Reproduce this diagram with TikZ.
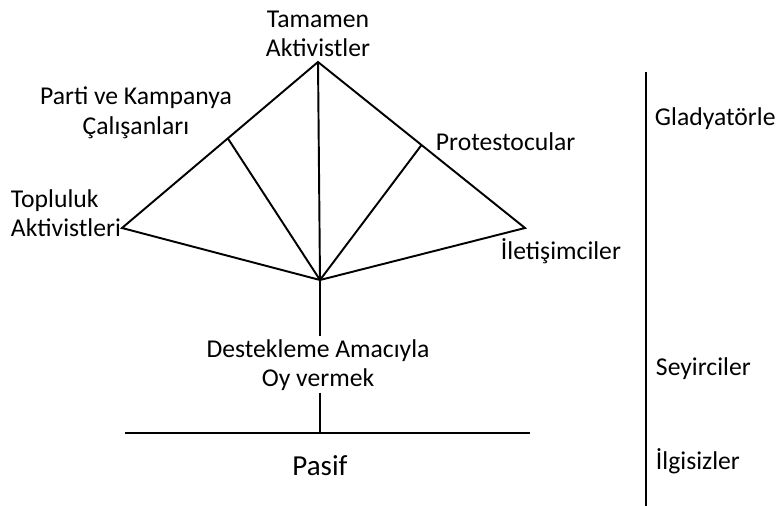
\documentclass[tikz,border=0pt]{standalone}
\usepackage{fontspec}
\setmainfont{Carlito}
\usetikzlibrary{calc}
\begin{document}
\begin{tikzpicture}[x=0.02cm,y=-0.02cm,line width=1.1pt,
  lbl/.style={font=\fontsize{14.6}{16.8}\selectfont,inner sep=0pt,align=center},
  lbll/.style={lbl,align=left,anchor=west}]
\useasboundingbox (0,0) rectangle (776,506);
\coordinate (top) at (318,62);
\coordinate (bot) at (320,280);
\coordinate (lft) at (122,228);
\coordinate (rgt) at (525,228);
\coordinate (parti) at ($(top)!0.46!(lft)$);
\coordinate (prot) at ($(top)!0.5!(rgt)$);
\coordinate (base) at (320,433);
\coordinate (basel) at (125,433);
\coordinate (baser) at (530,433);
\coordinate (axtop) at (646,72);
\coordinate (axbot) at (646,506);
\draw (top) -- (lft) -- (bot) -- (rgt) -- cycle;
\draw (top) -- (bot);
\draw (parti) -- (bot);
\draw (prot) -- (bot);
\draw (basel) -- (baser);
\draw[line width=1.5pt] (axtop) -- (axbot);
\node[lbl] (tamamen) at (318,34) {Tamamen\\Aktivistler};
\node[lbl] (partilbl) at (136,113) {Parti ve Kampanya\\Çalışanları};
\node[lbll] (toplu) at (10,213) {Topluluk\\Aktivistleri};
\node[lbll] (protlbl) at (435,142) {Protestocular};
\node[lbll] (iletis) at (500,251) {İletişimciler};
\node[lbl] (destek) at (318,365) {Destekleme Amacıyla\\Oy vermek};
\node[lbl,font=\fontsize{16.5}{19}\selectfont] (pasif) at (320,466) {Pasif};
\node[lbll] (gladya) at (654,119) {Gladyatörle};
\node[lbll] (seyirci) at (655,369) {Seyirciler};
\node[lbll] (ilgisiz) at (655,461) {İlgisizler};
\draw (bot) -- ([yshift=1.5pt]destek.north -| bot);
\draw ([yshift=-0.5pt]destek.south -| base) -- (base);
\end{tikzpicture}
\end{document}
